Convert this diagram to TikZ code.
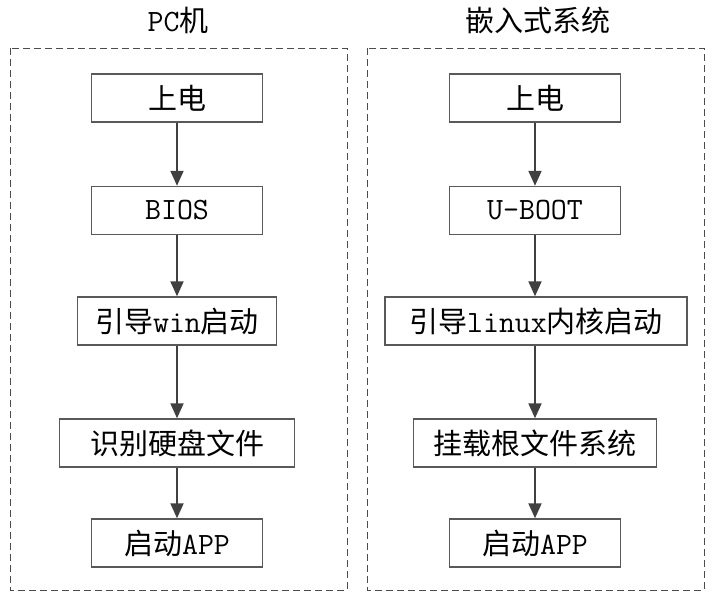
\documentclass[tikz,border=0pt]{standalone}
\usepackage{fontspec}
\newfontfamily\cjk{Noto Sans CJK SC}
\usepackage{tikz}
\usetikzlibrary{
  positioning,
  arrows.meta
}
\newcommand{\zh}[1]{{\cjk #1}}
\newcommand{\en}[1]{{\fontsize{31}{32}\selectfont\ttfamily #1}}

\begin{document}
\begin{tikzpicture}[
  x=1pt, y=-1pt,
  stage/.style={draw=black!65, line width=1.4pt, minimum height=48pt,
                minimum width=171pt, inner sep=0pt, font=\fontsize{29}{32}\selectfont},
  panel/.style={draw=black!70, line width=0.9pt, dash pattern=on 7pt off 4pt},
  caption/.style={font=\fontsize{29}{32}\selectfont},
  flow/.style={draw=black!75, line width=1.9pt, -{Triangle[length=15pt,width=13pt]}}
]
  \useasboundingbox (0,0) rectangle (714,599);

  % Panels
  \draw[panel] (10,48) rectangle (347,590);
  \draw[panel] (367,48) rectangle (704,590);
  \node[caption] (pcTitle) at (178,20) {\en{PC}\zh{机}};
  \node[caption] (emTitle) at (538,20) {\zh{嵌入式系统}};

  % PC boot chain
  \node[stage] (pc1) at (177,98) {\zh{上电}};
  \node[stage] (pc2) at (177,210.5) {\en{BIOS}};
  \node[stage, minimum width=199pt] (pc3) at (177,321) {\zh{引导}\en{win}\zh{启动}};
  \node[stage, minimum width=235pt] (pc4) at (177,443) {\zh{识别硬盘文件}};
  \node[stage] (pc5) at (177,543) {\zh{启动}\en{APP}};

  % Embedded boot chain
  \node[stage] (em1) at (535,98) {\zh{上电}};
  \node[stage] (em2) at (535,210.5) {\en{U-BOOT}};
  \node[stage, minimum width=302pt] (em3) at (536,321) {\zh{引导}\en{linux}\zh{内核启动}};
  \node[stage, minimum width=243pt] (em4) at (535,443) {\zh{挂载根文件系统}};
  \node[stage] (em5) at (535,543) {\zh{启动}\en{APP}};

  % Arrows
  \foreach \a/\b in {pc1/pc2, pc2/pc3, pc3/pc4, pc4/pc5, em1/em2, em2/em3, em4/em5}
    \draw[flow] (\a.south) -- (\a.south |- \b.north);
  \draw[flow] (em3.south -| em4) -- (em4.north);
\end{tikzpicture}
\end{document}
